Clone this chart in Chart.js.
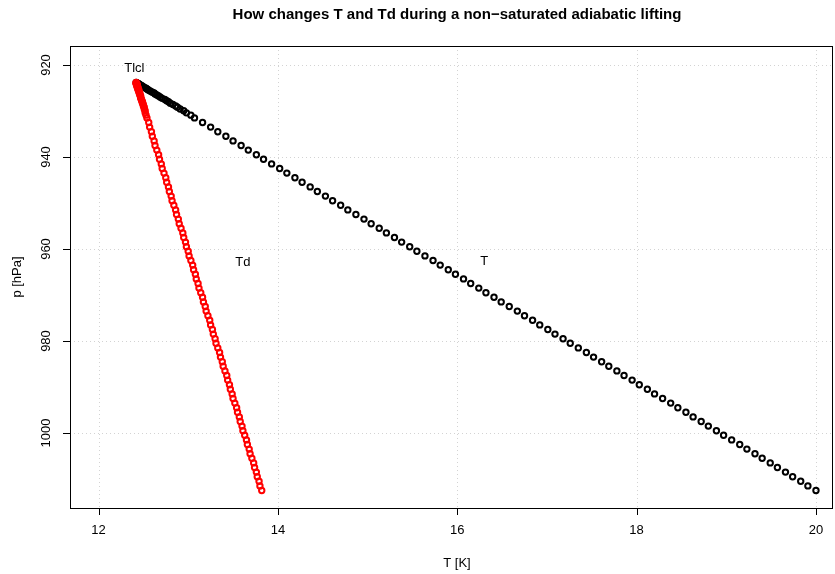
<!DOCTYPE html>
<html>
<head>
<meta charset="utf-8">
<script src="https://cdn.jsdelivr.net/npm/chart.js@4/dist/chart.umd.min.js"></script>
<style>
  html, body { margin: 0; padding: 0; background: #fff; }
</style>
</head>
<body>
<canvas id="chart" width="835" height="574"></canvas>
<script>
// pressure of the lifted parcel [hPa], from the ground up to the LCL
const pressure = [1012.5, 1011.5, 1010.5, 1009.5, 1008.5, 1007.5, 1006.5, 1005.5, 1004.5, 1003.5,
  1002.5, 1001.5, 1000.5, 999.5, 998.5, 997.5, 996.5, 995.5, 994.5, 993.5,
  992.5, 991.5, 990.5, 989.5, 988.5, 987.5, 986.5, 985.5, 984.5, 983.5,
  982.5, 981.5, 980.5, 979.5, 978.5, 977.5, 976.5, 975.5, 974.5, 973.5,
  972.5, 971.5, 970.5, 969.5, 968.5, 967.5, 966.5, 965.5, 964.5, 963.5,
  962.5, 961.5, 960.5, 959.5, 958.5, 957.5, 956.5, 955.5, 954.5, 953.5,
  952.5, 951.5, 950.5, 949.5, 948.5, 947.5, 946.5, 945.5, 944.5, 943.5,
  942.5, 941.5, 940.5, 939.5, 938.5, 937.5, 936.5, 935.5, 934.5, 933.5,
  932.5, 931.5,
  930.9, 930.4, 929.95, 929.55, 929.2, 928.9, 928.6, 928.3, 928.0, 927.75,
  927.5, 927.25, 927.0, 926.75, 926.5, 926.3, 926.1, 925.9, 925.7, 925.5,
  925.35, 925.2, 925.05, 924.9, 924.75, 924.6, 924.5, 924.4, 924.3, 924.2,
  924.1, 924.0, 923.9, 923.8];

// temperature T
const tempT = [20.00, 19.91, 19.83, 19.74, 19.66, 19.57, 19.49, 19.40, 19.32, 19.23,
  19.15, 19.06, 18.97, 18.89, 18.80, 18.72, 18.63, 18.55, 18.46, 18.38,
  18.29, 18.20, 18.12, 18.03, 17.95, 17.86, 17.78, 17.69, 17.61, 17.52,
  17.44, 17.35, 17.26, 17.18, 17.09, 17.01, 16.92, 16.84, 16.75, 16.67,
  16.58, 16.49, 16.41, 16.32, 16.24, 16.15, 16.07, 15.98, 15.90, 15.81,
  15.73, 15.64, 15.55, 15.47, 15.38, 15.30, 15.21, 15.13, 15.04, 14.96,
  14.87, 14.78, 14.70, 14.61, 14.53, 14.44, 14.36, 14.27, 14.19, 14.10,
  14.02, 13.93, 13.84, 13.76, 13.67, 13.59, 13.50, 13.42, 13.33, 13.25,
  13.16, 13.07,
  13.03, 12.98, 12.95, 12.91, 12.88, 12.86, 12.83, 12.80, 12.78, 12.76,
  12.74, 12.71, 12.69, 12.67, 12.65, 12.63, 12.62, 12.60, 12.58, 12.56,
  12.55, 12.54, 12.53, 12.51, 12.50, 12.49, 12.48, 12.47, 12.46, 12.45,
  12.45, 12.44, 12.43, 12.42];

// dew point Td
const tempTd = [13.82, 13.80, 13.79, 13.77, 13.76, 13.74, 13.73, 13.71, 13.69, 13.68,
  13.66, 13.65, 13.63, 13.61, 13.60, 13.58, 13.57, 13.55, 13.54, 13.52,
  13.50, 13.49, 13.47, 13.46, 13.44, 13.43, 13.41, 13.39, 13.38, 13.36,
  13.35, 13.33, 13.31, 13.30, 13.28, 13.27, 13.25, 13.24, 13.22, 13.20,
  13.19, 13.17, 13.16, 13.14, 13.12, 13.11, 13.09, 13.08, 13.06, 13.05,
  13.03, 13.01, 13.00, 12.98, 12.97, 12.95, 12.94, 12.92, 12.90, 12.89,
  12.87, 12.86, 12.84, 12.82, 12.81, 12.79, 12.78, 12.76, 12.75, 12.73,
  12.71, 12.70, 12.68, 12.67, 12.65, 12.63, 12.62, 12.60, 12.59, 12.57,
  12.56, 12.54,
  12.53, 12.52, 12.52, 12.51, 12.51, 12.50, 12.50, 12.49, 12.49, 12.48,
  12.48, 12.47, 12.47, 12.47, 12.46, 12.46, 12.46, 12.45, 12.45, 12.45,
  12.44, 12.44, 12.44, 12.44, 12.43, 12.43, 12.43, 12.43, 12.43, 12.43,
  12.42, 12.42, 12.42, 12.42];

const xTicks = [12, 14, 16, 18, 20];
const yTicks = [920, 940, 960, 980, 1000];

// text labels placed in data coordinates
const labelText = ['Tlcl', 'Td', 'T'];
const labelX = [12.40, 13.61, 16.30];
const labelP = [920.7, 963.0, 962.8];

const FONT = '"Liberation Sans", Arial, Helvetica, sans-serif';

// R-style frame, ticks, grid and texts
const rStyle = {
  id: 'rStyle',
  beforeDatasetsDraw(chart) {
    const { ctx, chartArea: a, scales: { x, y } } = chart;
    ctx.save();
    ctx.strokeStyle = '#d3d3d3';
    ctx.lineWidth = 1;
    ctx.setLineDash([1, 3]);
    ctx.beginPath();
    xTicks.forEach(v => {
      const px = Math.round(x.getPixelForValue(v)) + 0.5;
      ctx.moveTo(px, a.top); ctx.lineTo(px, a.bottom);
    });
    yTicks.forEach(v => {
      const py = Math.round(y.getPixelForValue(v)) + 0.5;
      ctx.moveTo(a.left, py); ctx.lineTo(a.right, py);
    });
    ctx.stroke();
    ctx.restore();
  },
  afterDraw(chart) {
    const { ctx, chartArea: a, scales: { x, y } } = chart;
    ctx.save();
    // box
    ctx.strokeStyle = '#000';
    ctx.lineWidth = 1;
    ctx.strokeRect(Math.round(a.left) + 0.5, Math.round(a.top) + 0.5,
      Math.round(a.right - a.left) - 1, Math.round(a.bottom - a.top));
    // ticks
    ctx.beginPath();
    xTicks.forEach(v => {
      const px = Math.round(x.getPixelForValue(v)) + 0.5;
      ctx.moveTo(px, a.bottom); ctx.lineTo(px, a.bottom + 7);
    });
    yTicks.forEach(v => {
      const py = Math.round(y.getPixelForValue(v)) + 0.5;
      ctx.moveTo(a.left, py); ctx.lineTo(a.left - 7, py);
    });
    ctx.stroke();

    ctx.fillStyle = '#000';
    ctx.font = '13px ' + FONT;
    ctx.textAlign = 'center';
    ctx.textBaseline = 'middle';
    xTicks.forEach(v => ctx.fillText(String(v), x.getPixelForValue(v), 530));
    yTicks.forEach(v => {
      ctx.save();
      ctx.translate(46, y.getPixelForValue(v));
      ctx.rotate(-Math.PI / 2);
      ctx.fillText(String(v), 0, 0);
      ctx.restore();
    });

    // axis titles
    ctx.fillText('T [K]', 457, 563);
    ctx.save();
    ctx.translate(17, 277);
    ctx.rotate(-Math.PI / 2);
    ctx.fillText('p [hPa]', 0, 0);
    ctx.restore();

    // labels in the plot
    labelText.forEach((t, i) => {
      ctx.fillText(t, x.getPixelForValue(labelX[i]), y.getPixelForValue(labelP[i]));
    });

    // main title
    ctx.font = 'bold 15px ' + FONT;
    ctx.fillText('How changes T and Td during a non\u2212saturated adiabatic lifting', 457, 15);
    ctx.restore();
  }
};

new Chart(document.getElementById('chart'), {
  type: 'scatter',
  data: {
    datasets: [
      {
        label: 'Td',
        data: pressure.map((p, i) => ({ x: tempTd[i], y: p })),
        borderColor: '#ff0000',
        backgroundColor: 'transparent',
        pointRadius: 2.7,
        pointBorderWidth: 2,
        order: 0
      },
      {
        label: 'T',
        data: pressure.map((p, i) => ({ x: tempT[i], y: p })),
        borderColor: '#000000',
        backgroundColor: 'transparent',
        pointRadius: 2.7,
        pointBorderWidth: 2,
        order: 1
      }
    ]
  },
  options: {
    responsive: false,
    animation: false,
    events: [],
    layout: { autoPadding: false, padding: { left: 70, right: 2, top: 46, bottom: 66 } },
    scales: {
      x: { type: 'linear', display: false, min: 11.682, max: 20.19 },
      y: { type: 'linear', display: false, reverse: true, min: 915.87, max: 1016.3 }
    },
    plugins: {
      legend: { display: false },
      tooltip: { enabled: false },
      title: { display: false }
    }
  },
  plugins: [rStyle]
});
</script>
</body>
</html>
